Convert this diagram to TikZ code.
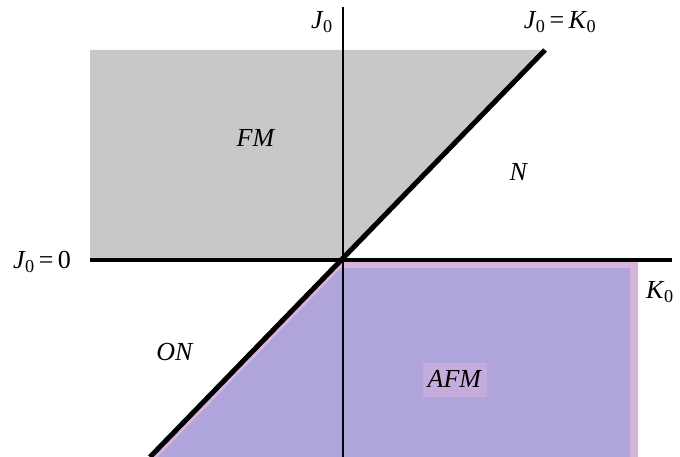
\documentclass[tikz,border=0pt]{standalone}
\usepackage{fontspec}
\setmainfont{Liberation Serif}
\newcommand{\Jsub}{\textit{J}\kern-0.02em\textsubscript{0}}
\newcommand{\Ksub}{\textit{K}\kern-0.02em\textsubscript{0}}
\begin{document}
\begin{tikzpicture}[x=1pt,y=-1pt,
  lbl/.style={inner sep=0pt,font=\fontsize{26}{28}\selectfont},
  axisline/.style={line width=#1,black},
  axisline/.default=3pt]
\useasboundingbox (0,0) rectangle (680,457);
\definecolor{grayfill}{HTML}{C8C8C8}
\definecolor{pinkfill}{HTML}{D6B4DC}
\definecolor{lavfill}{HTML}{B0A5DB}
\definecolor{afmbox}{HTML}{C6ACDC}
% regions
\fill[grayfill] (90,50) -- (543,50) -- (343,260) -- (90,260) -- cycle;
\fill[pinkfill] (343,261) -- (638,261) -- (638,457) -- (150,457) -- cycle;
\fill[lavfill] (341,268) -- (630,268) -- (630,457) -- (158,457) -- cycle;
\fill[afmbox] (423,363) rectangle (487,397);
% nodes
\coordinate (origin) at (343,260);
\coordinate (vtop) at (343,7);
\coordinate (vbot) at (343,457);
\coordinate (hleft) at (90,260);
\coordinate (hright) at (672,260);
\coordinate (dtop) at (545,50);
\coordinate (dbot) at (150,457);
% axes
\draw[axisline=2.8pt] (vtop) -- (vbot);
\draw[axisline=4pt] (hleft) -- (hright);
\draw[axisline=5pt] (dbot) -- (dtop);
% labels
\node[lbl] (lj) at (322,22) {\Jsub};
\node[lbl] (ljk) at (560,22) {\Jsub\,=\,\Ksub};
\node[lbl] (lj0) at (42,262) {\Jsub\,=\,0};
\node[lbl] (lk) at (660,292) {\Ksub};
\node[lbl] (fm) at (256,138) {\textit{FM}};
\node[lbl] (n) at (519,172) {\textit{N}};
\node[lbl] (on) at (175,352) {\textit{ON}};
\node[lbl] (afm) at (455,379) {\textit{AFM}};
\end{tikzpicture}
\end{document}
